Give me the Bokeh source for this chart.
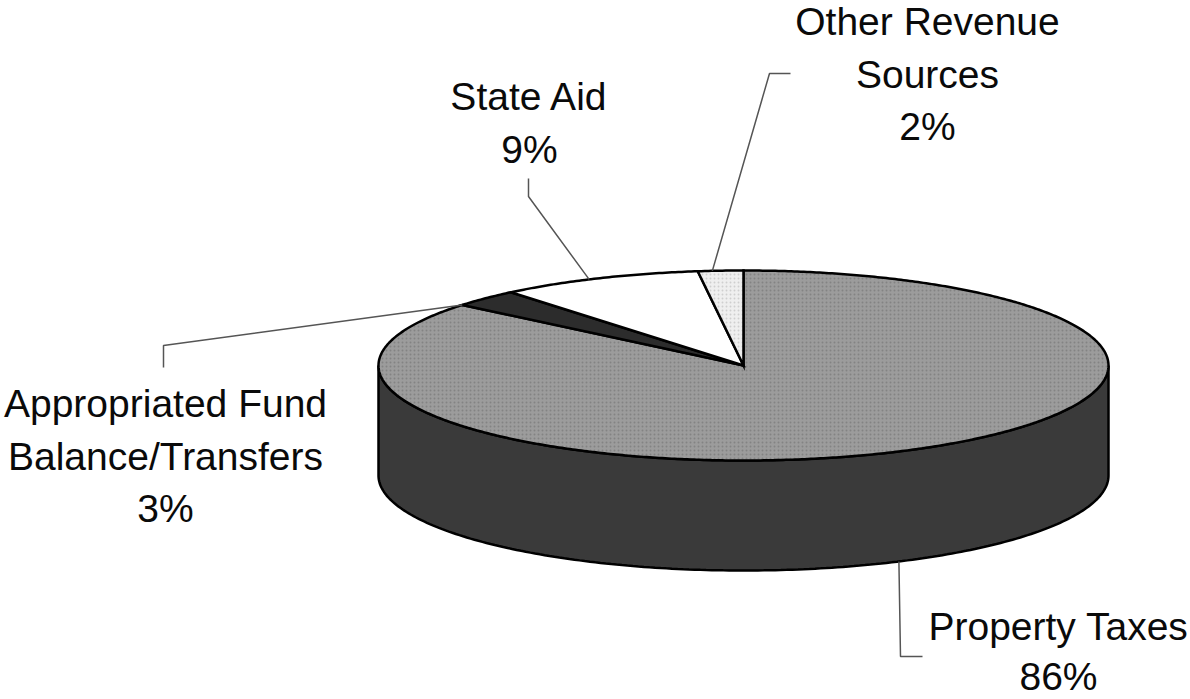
import numpy as np
from bokeh.plotting import figure
from bokeh.models import Range1d, ColumnDataSource
from bokeh.core.properties import value
from bokeh.embed import file_html
from bokeh.resources import INLINE

# ---------------- data ----------------
categories = ["Property Taxes", "Appropriated Fund Balance/Transfers",
              "State Aid", "Other Revenue Sources"]
shares = [86, 3, 9, 2]
label_lines = [["Property Taxes", "86%"],
               ["Appropriated Fund", "Balance/Transfers", "3%"],
               ["State Aid", "9%"],
               ["Other Revenue", "Sources", "2%"]]

# ---------------- styles / layout ----------------
top_colors = ["#9c9c9c", "#2c2c2c", "#ffffff", "#efefef"]
top_hatch = [".", " ", " ", "."]
top_hatch_colors = ["#707070", "#000000", "#000000", "#b5b5b5"]
side_colors = ["#3a3a3a", "#1e1e1e", "#dddddd", "#cccccc"]

W, H = 1190, 699
CX, CY, RX, RY, DEPTH = 743.0, 365.0, 365.0, 95.0, 110.0
anchor_frac = [0.5, 0.0, 0.45, 0.32]
anchor_on_bottom = [True, False, False, False]
label_pos = [(1058, 626), (165, 403), (529, 96), (927, 21)]
label_step = [50.0, 52.5, 52.5, 52.5]
leader_elbow = [[(900, 656), (922, 656)],
                [(163, 345), (163, 367)],
                [(528, 196), (528, 178)],
                [(769, 73), (790, 73)]]
FONT = "Liberation Sans"


def pt(theta_deg, dy=0.0):
    t = np.radians(theta_deg)
    return CX + RX * np.sin(t), CY - RY * np.cos(t) + dy


p = figure(width=W, height=H, output_backend="svg", toolbar_location=None,
           x_range=Range1d(0, W), y_range=Range1d(H, 0), min_border=0,
           background_fill_color="white", border_fill_color="white")
p.axis.visible = False
p.grid.visible = False
p.outline_line_color = None

total = float(sum(shares))
starts, ends = [], []
acc = 0.0
for s in shares:
    starts.append(acc / total * 360.0)
    acc += s
    ends.append(acc / total * 360.0)

# ---- sides (front half: 90..270 deg clockwise from top) ----
sx, sy, sc = [], [], []
for a0, a1, col in zip(starts, ends, side_colors):
    lo, hi = max(a0, 90.0), min(a1, 270.0)
    if hi <= lo:
        continue
    th = np.linspace(lo, hi, 200)
    tx, ty = pt(th)
    bx, by = pt(th, DEPTH)
    sx.append(list(tx) + list(bx[::-1]))
    sy.append(list(ty) + list(by[::-1]))
    sc.append(col)
p.patches(xs=sx, ys=sy, fill_color=sc, line_color="black", line_width=2.5)

# ---- top faces ----
tx_all, ty_all = [], []
for a0, a1 in zip(starts, ends):
    th = np.linspace(a0, a1, max(int((a1 - a0) * 2), 8))
    ax, ay = pt(th)
    tx_all.append([CX] + list(ax) + [CX])
    ty_all.append([CY] + list(ay) + [CY])
src = ColumnDataSource(dict(xs=tx_all, ys=ty_all, fc=top_colors,
                            hp=top_hatch, hc=top_hatch_colors, name=categories))
p.patches(xs="xs", ys="ys", fill_color="fc", hatch_pattern="hp", hatch_color="hc",
          hatch_scale=4, hatch_alpha=0.55, line_color="black", line_width=2.5,
          line_join="miter", source=src)

# ---- leader lines ----
lx, ly = [], []
for a0, a1, f, onb, elbow in zip(starts, ends, anchor_frac, anchor_on_bottom, leader_elbow):
    ang = a0 + (a1 - a0) * f
    x0, y0 = pt(ang, DEPTH if onb else 0.0)
    lx.append([x0] + [e[0] for e in elbow])
    ly.append([y0] + [e[1] for e in elbow])
p.multi_line(xs=lx, ys=ly, line_color="#555555", line_width=1.5)

# ---- labels ----
tx, ty, tt = [], [], []
for lines, (x, y), step in zip(label_lines, label_pos, label_step):
    for i, ln in enumerate(lines):
        tx.append(x)
        ty.append(y + i * step)
        tt.append(ln)
p.text(x=tx, y=ty, text=tt, text_font=value(FONT), text_font_size="39px",
       text_align="center", text_baseline="alphabetic", text_color="#0a0a0a")

open("out.html", "w").write(file_html(p, INLINE))
